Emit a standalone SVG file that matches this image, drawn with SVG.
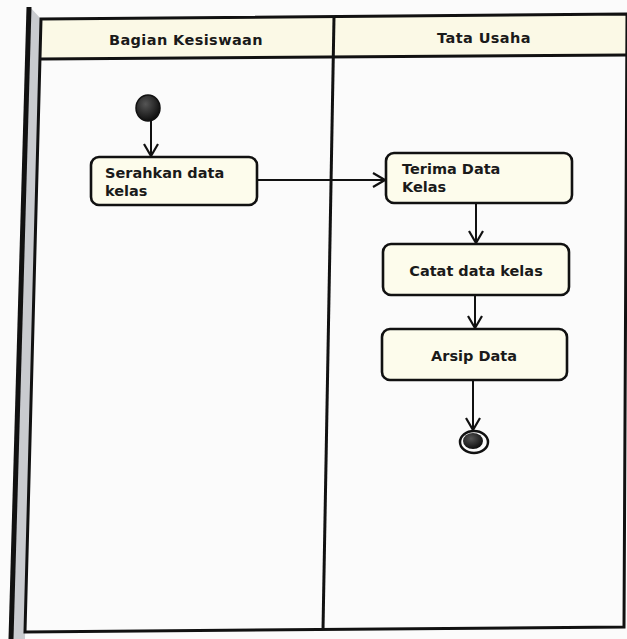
<svg xmlns="http://www.w3.org/2000/svg" width="627" height="639" viewBox="0 0 627 639">
  <defs>
    <marker id="open" viewBox="0 0 14 16" refX="13" refY="8" markerWidth="14" markerHeight="16" markerUnits="userSpaceOnUse" orient="auto">
      <path d="M1,1 L13,8 L1,15" fill="none" stroke="#111" stroke-width="2.2"/>
    </marker>
    <radialGradient id="dot" cx="0.4" cy="0.35" r="0.7">
      <stop offset="0" stop-color="#555"/>
      <stop offset="1" stop-color="#0a0a0a"/>
    </radialGradient>
  </defs>
  <style>
    .frame { fill: none; stroke: #111; stroke-width: 3; }
    .box { fill: #fdfcec; stroke: #111; stroke-width: 2.6; }
    .label { font-family: "DejaVu Sans", "Liberation Sans", sans-serif; font-weight: bold; font-size: 14.5px; fill: #1a1a1a; }
    .head { font-family: "DejaVu Sans", "Liberation Sans", sans-serif; font-weight: bold; font-size: 14.5px; letter-spacing: 0.4px; fill: #1a1a1a; }
    .flow { fill: none; stroke: #111; stroke-width: 2; marker-end: url(#open); }
  </style>

  <rect width="627" height="639" fill="#fbfbfb"/>

  <!-- page edge at the left -->
  <polygon points="30,7 41,19 25,639 12,639" fill="#c9cbcf"/>
  <line x1="29" y1="7" x2="11" y2="639" stroke="#111" stroke-width="5"/>

  <!-- swimlane frame -->
  <g id="lanes">
    <polygon points="41,19 627,14 627,55 41,59" fill="#fbf9e6"/>
    <polygon class="frame" points="41,19 627,14 624,627 25,632"/>
    <line class="frame" x1="41" y1="59" x2="627" y2="55"/>
    <line class="frame" x1="334" y1="17" x2="323" y2="630"/>
    <text class="head" x="186" y="45" text-anchor="middle">Bagian Kesiswaan</text>
    <text class="head" x="484" y="43" text-anchor="middle">Tata Usaha</text>
  </g>

  <!-- connectors -->
  <g id="connectors">
    <line class="flow" x1="151" y1="120" x2="151" y2="156"/>
    <line class="flow" x1="257" y1="180" x2="385" y2="180"/>
    <line class="flow" x1="476" y1="203" x2="476" y2="243"/>
    <line class="flow" x1="475" y1="295" x2="475" y2="328"/>
    <line class="flow" x1="473" y1="380" x2="473" y2="430"/>
  </g>

  <g id="start">
    <ellipse cx="148" cy="108" rx="12" ry="13" fill="url(#dot)" stroke="#111" stroke-width="1.5"/>
  </g>

  <g id="serahkan">
    <rect class="box" x="91" y="157" width="166" height="48" rx="8"/>
    <text class="label" x="105" y="178">Serahkan data</text>
    <text class="label" x="105" y="196">kelas</text>
  </g>

  <g id="terima">
    <rect class="box" x="386" y="153" width="186" height="50" rx="8"/>
    <text class="label" x="402" y="174">Terima Data</text>
    <text class="label" x="402" y="192">Kelas</text>
  </g>

  <g id="catat">
    <rect class="box" x="383" y="244" width="186" height="51" rx="8"/>
    <text class="label" x="476" y="276" text-anchor="middle">Catat data kelas</text>
  </g>

  <g id="arsip">
    <rect class="box" x="382" y="329" width="185" height="51" rx="8"/>
    <text class="label" x="474" y="361" text-anchor="middle">Arsip Data</text>
  </g>

  <g id="end">
    <ellipse cx="474" cy="442" rx="14" ry="11" fill="#fbfbfb" stroke="#111" stroke-width="2.5"/>
    <ellipse cx="473" cy="441" rx="10" ry="8" fill="url(#dot)"/>
  </g>
</svg>
